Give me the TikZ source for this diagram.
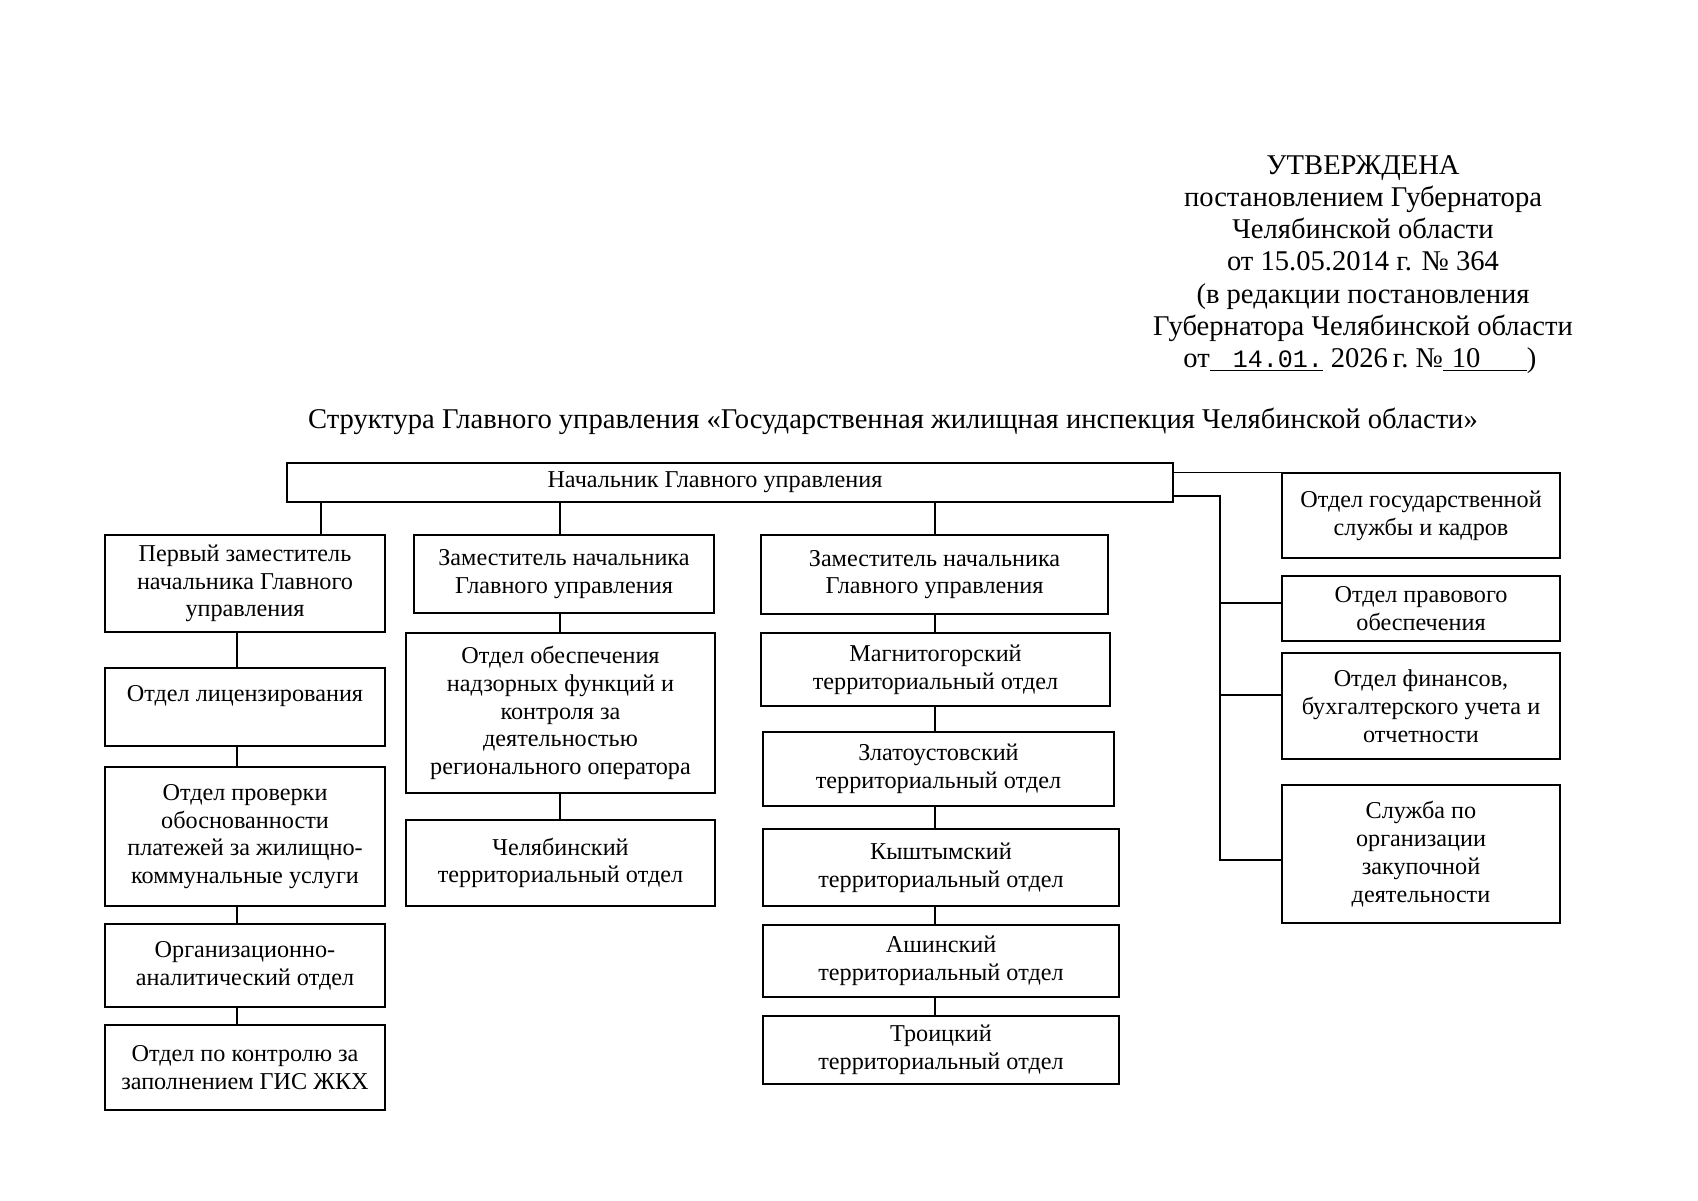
\documentclass[tikz,border=0pt]{standalone}
\usepackage{fontspec}
\setmainfont{Liberation Serif}
\newfontfamily\monofont{Liberation Mono}
\begin{document}
\begin{tikzpicture}[x=0.5pt,y=-0.5pt,
  box/.style={draw, line width=0.7pt, inner sep=0pt, align=center, font=\fontsize{12.1}{13.9}\selectfont},
  sz/.style 2 args={minimum width=#1*0.5pt, minimum height=#2*0.5pt},
  conn/.style={line width=0.7pt},
  hdr/.style={anchor=base, font=\fontsize{14.3}{16}\selectfont, inner sep=0pt}]
\fill[white] (0,0) rectangle (1698,1200);
\useasboundingbox (0,0) rectangle (1698,1200);

% header
\node[hdr] (h1) at (1363,174) {УТВЕРЖДЕНА};
\node[hdr] (h2) at (1363,206.3) {постановлением Губернатора};
\node[hdr] (h3) at (1363,238.6) {Челябинской области};
\node[hdr] (h4) at (1363,270.9) {от 15.05.2014 г. № 364};
\node[hdr] (h5) at (1363,303.2) {(в редакции постановления};
\node[hdr] (h6) at (1363,335.5) {Губернатора Челябинской области};
\node[hdr, anchor=base west] (h7) at (1183,367.8) {от\underline{\makebox[56.5pt][r]{\monofont\fontsize{12.5}{14}\selectfont 14.01.}}\hspace{4pt}2026\,г.~№\underline{\makebox[42pt][l]{\hspace{4.5pt}10}})};

% title
\node[hdr] (title) at (893,428) {Структура Главного управления «Государственная жилищная инспекция Челябинской области»};

% head
\node[box, sz={886}{39}] (head) at (730,482.5) {Начальник Главного управления\hspace*{15pt}};

% column 1
\node[box, sz={280}{97}] (c1a) at (245,583.5) {Первый заместитель\\начальника Главного\\управления};
\node[box, sz={280}{78}] (c1b) at (245,707) {Отдел лицензирования\\\mbox{}};
\node[box, sz={280}{139}] (c1c) at (245,836.5) {Отдел проверки\\обоснованности\\платежей за жилищно-\\коммунальные услуги};
\node[box, sz={280}{83}] (c1d) at (245,965.5) {Организационно-\\аналитический отдел};
\node[box, sz={280}{85}] (c1e) at (245,1067.5) {Отдел по контролю за\\заполнением ГИС ЖКХ};

% column 2
\node[box, sz={300}{78}] (c2a) at (564,574) {Заместитель начальника\\Главного управления};
\node[box, sz={309}{160}] (c2b) at (560.5,713) {Отдел обеспечения\\надзорных функций и\\контроля за\\деятельностью\\регионального оператора};
\node[box, sz={309}{86}] (c2c) at (560.5,863) {Челябинский\\территориальный отдел};

% column 3
\node[box, sz={347}{79}] (c3a) at (934.5,574.5) {Заместитель начальника\\Главного управления};
\node[box, sz={349}{73}] (c3b) at (935.5,669.5) {Магнитогорский\\территориальный отдел};
\node[box, sz={351}{74}] (c3c) at (938.5,769) {Златоустовский\\территориальный отдел};
\node[box, sz={356}{77}] (c3d) at (941,867.5) {Кыштымский\\территориальный отдел};
\node[box, sz={356}{72}] (c3e) at (941,961) {Ашинский\\территориальный отдел};
\node[box, sz={356}{68}] (c3f) at (941,1050) {Троицкий\\территориальный отдел};

% column 4
\node[box, sz={278}{85}] (r1) at (1421,515.5) {Отдел государственной\\службы и кадров};
\node[box, sz={278}{65}] (r2) at (1421,608.5) {Отдел правового\\обеспечения};
\node[box, sz={278}{106}] (r3) at (1421,706) {Отдел финансов,\\бухгалтерского учета и\\отчетности};
\node[box, sz={278}{138}] (r4) at (1421,854) {Служба по\\организации\\закупочной\\деятельности};

% connector guides
\coordinate (v1) at (321,0);
\coordinate (k1) at (237,0);
\coordinate (v2) at (560,0);
\coordinate (v3) at (935,0);
\coordinate (bus) at (1220,496);
\coordinate (p2) at ([yshift=2.75pt]r2.west);
\coordinate (p3) at ([yshift=5.5pt]r3.west);
\coordinate (p4) at ([yshift=-3pt]r4.west);

\draw[conn] (head.south -| v1) -- (c1a.north -| v1);
\draw[conn] (c1a.south -| k1) -- (c1b.north -| k1);
\draw[conn] (c1b.south -| k1) -- (c1c.north -| k1);
\draw[conn] (c1c.south -| k1) -- (c1d.north -| k1);
\draw[conn] (c1d.south -| k1) -- (c1e.north -| k1);

\draw[conn] (head.south -| v2) -- (c2a.north -| v2);
\draw[conn] (c2a.south -| v2) -- (c2b.north -| v2);
\draw[conn] (c2b.south -| v2) -- (c2c.north -| v2);

\draw[conn] (head.south -| v3) -- (c3a.north -| v3);
\draw[conn] (c3a.south -| v3) -- (c3b.north -| v3);
\draw[conn] (c3b.south -| v3) -- (c3c.north -| v3);
\draw[conn] (c3c.south -| v3) -- (c3d.north -| v3);
\draw[conn] (c3d.south -| v3) -- (c3e.north -| v3);
\draw[conn] (c3e.south -| v3) -- (c3f.north -| v3);

\draw[conn] (head.east |- r1.north) -- (r1.north west);
\draw[conn] (head.east |- bus) -- (bus) -- (bus |- p4) -- (p4);
\draw[conn] (bus |- p2) -- (p2);
\draw[conn] (bus |- p3) -- (p3);
\end{tikzpicture}
\end{document}
